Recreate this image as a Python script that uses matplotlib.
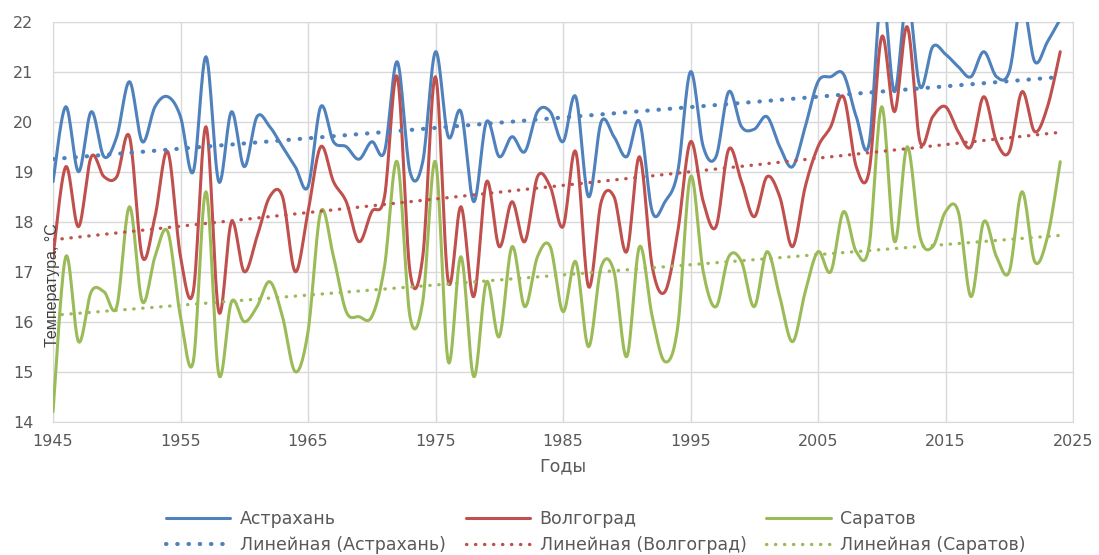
import numpy as np
import matplotlib
matplotlib.use('Agg')
import matplotlib.pyplot as plt

years = np.arange(1945, 2025)

astrakhan = [18.8, 20.3, 19.0, 20.2, 19.3, 19.7, 20.8, 19.6, 20.3, 20.5,
             20.1, 19.0, 21.3, 18.8, 20.2, 19.1, 20.1, 19.9, 19.5, 19.1,
             18.7, 20.3, 19.6, 19.5, 19.25, 19.6, 19.4, 21.2, 19.0, 19.2,
             21.4, 19.7, 20.2, 18.4, 20.0, 19.3, 19.7, 19.4, 20.2, 20.2,
             19.6, 20.5, 18.5, 20.0, 19.7, 19.3, 20.0, 18.2, 18.4, 19.0,
             21.0, 19.5, 19.3, 20.6, 19.9, 19.85, 20.1, 19.5, 19.1, 19.9,
             20.8, 20.9, 20.95, 20.1, 19.55, 22.6, 20.6, 22.5, 20.7, 21.5,
             21.35, 21.1, 20.9, 21.4, 20.9, 21.0, 22.4, 21.2, 21.6, 22.05]

volgograd = [17.3, 19.1, 17.9, 19.3, 18.9, 18.9, 19.7, 17.3, 18.1, 19.4,
             17.3, 16.6, 19.9, 16.2, 18.0, 17.0, 17.7, 18.5, 18.5, 17.0,
             18.2, 19.5, 18.8, 18.4, 17.6, 18.2, 18.5, 20.9, 17.0, 17.3,
             20.9, 16.8, 18.3, 16.5, 18.8, 17.5, 18.4, 17.6, 18.9, 18.7,
             17.9, 19.4, 16.7, 18.4, 18.5, 17.4, 19.3, 17.1, 16.6, 17.8,
             19.6, 18.4, 17.9, 19.45, 18.8, 18.1, 18.9, 18.5, 17.5, 18.7,
             19.5, 19.9, 20.5, 19.1, 19.0, 21.7, 20.2, 21.9, 19.6, 20.1,
             20.3, 19.8, 19.5, 20.5, 19.6, 19.4, 20.6, 19.8, 20.3, 21.4]

saratov = [14.2, 17.3, 15.6, 16.6, 16.6, 16.3, 18.3, 16.4, 17.3, 17.8,
           16.1, 15.2, 18.6, 14.95, 16.4, 16.0, 16.3, 16.8, 16.1, 15.0,
           15.8, 18.2, 17.3, 16.2, 16.1, 16.1, 17.1, 19.2, 16.1, 16.4,
           19.2, 15.2, 17.3, 14.9, 16.8, 15.7, 17.5, 16.3, 17.3, 17.5,
           16.2, 17.2, 15.5, 17.1, 17.0, 15.3, 17.5, 16.1, 15.2, 15.9,
           18.9, 17.0, 16.3, 17.3, 17.2, 16.3, 17.4, 16.5, 15.6, 16.6,
           17.4, 17.0, 18.2, 17.4, 17.5, 20.3, 17.6, 19.5, 17.7, 17.5,
           18.2, 18.2, 16.5, 18.0, 17.3, 17.0, 18.6, 17.2, 17.7, 19.2]

names = ['Астрахань', 'Волгоград', 'Саратов']
series = [astrakhan, volgograd, saratov]
colors = ['#4f81bd', '#c0504d', '#9bbb59']
trend_lw = [3.0, 2.4, 2.4]


def smooth(x, y, n=16):
    # сглаженная линия как в Excel (кривые Безье через точки)
    x = np.asarray(x, float)
    y = np.asarray(y, float)
    px = np.concatenate([[x[0]], x, [x[-1]]])
    py = np.concatenate([[y[0]], y, [y[-1]]])
    t = np.linspace(0, 1, n, endpoint=False)
    xs, ys = [], []
    for i in range(len(x) - 1):
        x0, x1, x2, x3 = px[i:i + 4]
        y0, y1, y2, y3 = py[i:i + 4]
        bx = [x1, x1 + (x2 - x0) / 6, x2 - (x3 - x1) / 6, x2]
        by = [y1, y1 + (y2 - y0) / 6, y2 - (y3 - y1) / 6, y2]
        c = [(1 - t) ** 3, 3 * (1 - t) ** 2 * t, 3 * (1 - t) * t ** 2, t ** 3]
        xs.append(sum(ci * bi for ci, bi in zip(c, bx)))
        ys.append(sum(ci * bi for ci, bi in zip(c, by)))
    xs.append([x[-1]])
    ys.append([y[-1]])
    return np.concatenate(xs), np.concatenate(ys)


fig = plt.figure(figsize=(10.99, 5.55), dpi=100)
ax = fig.add_axes([53 / 1099, 1 - 421.7 / 555, 1020 / 1099, 400 / 555])

handles = []
labels = []
for name, vals, col, tlw in zip(names, series, colors, trend_lw):
    sx, sy = smooth(years, vals)
    line, = ax.plot(sx, sy, color=col, lw=2.2, solid_capstyle='round', zorder=3)
    k, b = np.polyfit(years, vals, 1)
    tx = years[[0, -1]]
    tr, = ax.plot(tx, k * tx + b, color=col, lw=tlw, linestyle=(0, (0.1, 2.6)),
                  dash_capstyle='round', zorder=4)
    handles += [line, tr]
    labels += [name, 'Линейная (' + name + ')']

ax.set_xlim(1945, 2025)
ax.set_ylim(14, 22)
ax.set_xticks(np.arange(1945, 2026, 10))
ax.set_yticks(np.arange(14, 23, 1))
ax.grid(True, color='#d9d9d9', lw=1)
ax.set_axisbelow(True)
for s in ax.spines.values():
    s.set_color('#d9d9d9')
ax.tick_params(length=0, labelsize=11.5, labelcolor='#595959')
ax.tick_params(axis='y', pad=14)
ax.tick_params(axis='x', pad=9)

fig.text(563 / 1099, 1 - 466 / 555, 'Годы', ha='center', va='center',
         fontsize=12.5, color='#595959')
fig.text(53 / 1099, 1 - 285 / 555, 'Температура, °C', rotation=90,
         ha='center', va='center', fontsize=11.5, color='#404040',
         family=['Liberation Sans Narrow', 'Liberation Sans'], zorder=10)

fig.legend(handles, labels, ncol=3, loc='center',
           bbox_to_anchor=(596 / 1099, 1 - 532 / 555), frameon=False,
           fontsize=12.5, handlelength=3.7, handletextpad=0.55,
           columnspacing=1.15, labelcolor='#595959', labelspacing=0.45)

plt.savefig('out.png', dpi=100)
